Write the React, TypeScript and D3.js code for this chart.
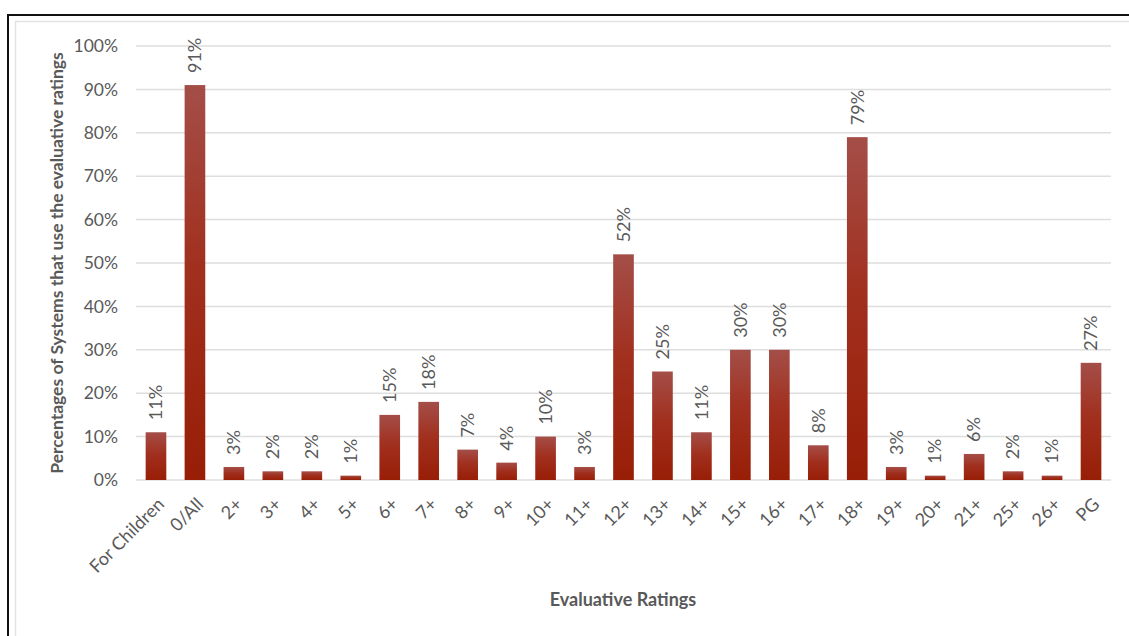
import React from "react";
import * as d3 from "d3";

const categories = [
  "For Children", "0/All", "2+", "3+", "4+", "5+", "6+", "7+", "8+", "9+", "10+", "11+",
  "12+", "13+", "14+", "15+", "16+", "17+", "18+", "19+", "20+", "21+", "25+", "26+", "PG",
];
const shares = [11, 91, 3, 2, 2, 1, 15, 18, 7, 4, 10, 3, 52, 25, 11, 30, 30, 8, 79, 3, 1, 6, 2, 1, 27];
const yTicks = [0, 10, 20, 30, 40, 50, 60, 70, 80, 90, 100];

const W = 1129;
const H = 636;
const FONT = "Lato, 'Open Sans', sans-serif";
const TEXT = "#595959";

export default function App() {
  const x = d3.scaleBand<string>().domain(categories).range([136.5, 1110.5]).paddingInner(0.47).paddingOuter(0.235);
  const y = d3.scaleLinear().domain([0, 100]).range([480, 46]);
  const bw = x.bandwidth();

  return (
    <svg width={W} height={H} style={{ position: "absolute", left: 0, top: 0, background: "#fff" }}>
      <defs>
        <linearGradient id="barFill" x1="0" y1="0" x2="0" y2="1">
          <stop offset="0%" stopColor="#a44e48" />
          <stop offset="45%" stopColor="#a1301f" />
          <stop offset="100%" stopColor="#981e06" />
        </linearGradient>
      </defs>
      {/* frame */}
      <rect x={8} y={15} width={W + 20} height={H + 20} fill="none" stroke="#111" strokeWidth={2} />
      <rect x={15.5} y={21.5} width={W + 20} height={H + 20} fill="none" stroke="#e3e3e3" strokeWidth={1.5} />

      {/* gridlines */}
      {yTicks.map((t) => (
        <line key={t} x1={136} x2={1111} y1={y(t)} y2={y(t)} stroke="#dedede" strokeWidth={1.5} />
      ))}

      {/* y tick labels */}
      {yTicks.map((t) => (
        <text key={t} x={118} y={y(t)} dy="0.35em" textAnchor="end" fontFamily={FONT} fontSize={17.5} fill={TEXT}>
          {t}%
        </text>
      ))}

      {/* bars */}
      {categories.map((c, i) => (
        <rect key={c} x={x(c)} y={y(shares[i])} width={bw} height={y(0) - y(shares[i])} fill="url(#barFill)" />
      ))}

      {/* value labels */}
      {categories.map((c, i) => {
        const cx = (x(c) as number) + bw / 2;
        const ty = y(shares[i]) - 12;
        return (
          <text
            key={c}
            transform={`translate(${cx},${ty}) rotate(-90)`}
            dy="0.35em"
            textAnchor="start"
            fontFamily={FONT}
            fontSize={18}
            fill={TEXT}
          >
            {shares[i]}%
          </text>
        );
      })}

      {/* category labels */}
      {categories.map((c) => {
        const cx = (x(c) as number) + bw / 2;
        return (
          <text
            key={c}
            transform={`translate(${cx + 5},${501}) rotate(-45)`}
            textAnchor="end"
            dy="0.35em"
            fontFamily={FONT}
            fontSize={18}
            fill={TEXT}
          >
            {c}
          </text>
        );
      })}

      {/* axis titles */}
      <text
        transform={`translate(57,${263}) rotate(-90)`}
        textAnchor="middle"
        dy="0.35em"
        fontFamily={FONT}
        fontSize={17.5}
        fontWeight="bold"
        fill={TEXT}
      >
        Percentages of Systems that use the evaluative ratings
      </text>
      <text x={623} y={600} dy="0.35em" textAnchor="middle" fontFamily={FONT} fontSize={18} fontWeight="bold" fill={TEXT}>
        Evaluative Ratings
      </text>
    </svg>
  );
}
